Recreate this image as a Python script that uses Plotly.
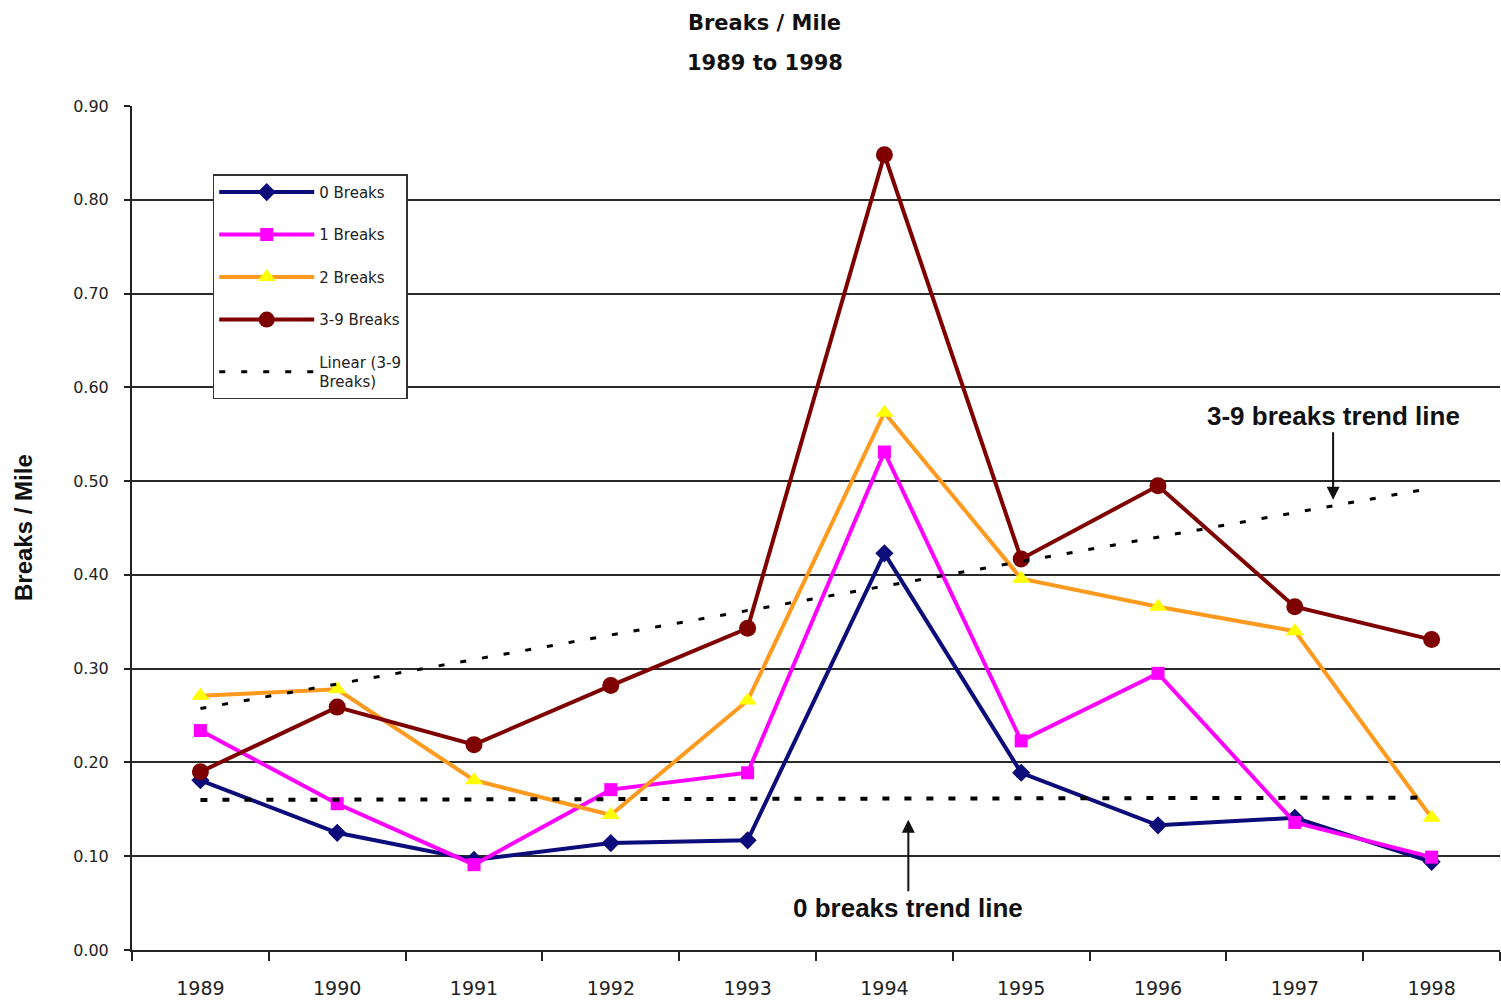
import numpy as np
import plotly.graph_objects as go

# Breaks per mile by year, grouped by number of prior breaks
years = ["1989", "1990", "1991", "1992", "1993", "1994", "1995", "1996", "1997", "1998"]
breaks_0 = [0.181, 0.125, 0.096, 0.114, 0.117, 0.423, 0.189, 0.133, 0.141, 0.094]
breaks_1 = [0.234, 0.156, 0.091, 0.171, 0.189, 0.531, 0.223, 0.295, 0.136, 0.099]
breaks_2 = [0.271, 0.278, 0.181, 0.144, 0.266, 0.573, 0.396, 0.366, 0.340, 0.141]
breaks_3_9 = [0.190, 0.259, 0.219, 0.282, 0.343, 0.848, 0.417, 0.495, 0.366, 0.331]

y_ticks = [0.0, 0.1, 0.2, 0.3, 0.4, 0.5, 0.6, 0.7, 0.8, 0.9]

# Least-squares linear trend lines
idx = np.arange(len(years))
def linear_trend(values):
    slope, intercept = np.polyfit(idx, values, 1)
    return list(slope * idx + intercept)

trend_3_9 = linear_trend(breaks_3_9)
trend_0 = linear_trend(breaks_0)

fig = go.Figure()

series = [
    ("0 Breaks", breaks_0, "#0c0c7a", "#0c0c7a", "diamond", 14),
    ("1 Breaks", breaks_1, "#ff00ff", "#ff00ff", "square", 13),
    ("2 Breaks", breaks_2, "#ff9a1e", "#ffff00", "triangle-up", 16),
    ("3-9 Breaks", breaks_3_9, "#7f0000", "#7f0000", "circle", 17),
]
for i, (name, vals, lc, mc, sym, ms) in enumerate(series):
    fig.add_trace(go.Scatter(
        x=years, y=vals, name=name, mode="lines+markers",
        line=dict(color=lc, width=4),
        marker=dict(color=mc, symbol=sym, size=ms, line=dict(width=0)),
        legendgroup=f"g{i}",
    ))

fig.add_trace(go.Scatter(
    x=years, y=trend_0, mode="lines", showlegend=False,
    line=dict(color="black", width=4, dash="7px,15px"),
))
fig.add_trace(go.Scatter(
    x=years, y=trend_3_9, name="Linear (3-9<br>Breaks)", mode="lines",
    line=dict(color="black", width=3, dash="6px,16px"),
    legendgroup="g4",
))

axis_font = dict(family="DejaVu Sans", color="#222222")

fig.update_layout(
    width=1501, height=1000,
    margin=dict(l=132, r=1, t=106, b=50),
    paper_bgcolor="white", plot_bgcolor="white",
    showlegend=True,
    legend=dict(
        x=0.059, y=0.919, xanchor="left", yanchor="top",
        bgcolor="white", bordercolor="#333333", borderwidth=1.5,
        font=dict(family="DejaVu Sans", size=15, color="#222222"),
        tracegroupgap=20, itemwidth=95,
    ),
    xaxis=dict(
        type="category", range=[-0.5, 9.5],
        showline=True, linecolor="#222222", linewidth=2,
        ticks="outside", tickson="boundaries", ticklen=9, tickwidth=2, tickcolor="#222222",
        tickfont=dict(size=19, **axis_font), ticklabelstandoff=20,
        showgrid=False, zeroline=False,
    ),
    yaxis=dict(
        range=[0, 0.9], tickvals=y_ticks, tickformat=".2f",
        showline=True, linecolor="#222222", linewidth=2,
        ticks="outside", ticklen=6, tickwidth=2, tickcolor="#222222",
        tickfont=dict(size=16, **axis_font), ticklabelstandoff=12,
        showgrid=True, gridcolor="#2a2a2a", gridwidth=1.5,
        zeroline=False,
    ),
    annotations=[
        dict(text="<b>Breaks / Mile</b>", xref="paper", yref="paper",
             x=0.4627, y=1.115, showarrow=False,
             font=dict(family="DejaVu Sans", size=21, color="#111111")),
        dict(text="<b>1989 to 1998</b>", xref="paper", yref="paper",
             x=0.4627, y=1.0675, showarrow=False,
             font=dict(family="DejaVu Sans", size=21, color="#111111")),
        dict(text="<b>Breaks / Mile</b>", xref="paper", yref="paper",
             x=-0.091, y=0.5, showarrow=False, textangle=-90,
             font=dict(family="Liberation Sans", size=24, color="#111111")),
        dict(text="<b>3-9 breaks trend line</b>", x=8.28, y=0.48,
             ax=0, ay=-84, showarrow=True, arrowhead=2, arrowsize=1.3,
             arrowwidth=2, arrowcolor="#111111",
             font=dict(family="Liberation Sans", size=26, color="#111111")),
        dict(text="<b>0 breaks trend line</b>", x=5.175, y=0.139,
             ax=0, ay=88, showarrow=True, arrowhead=2, arrowsize=1.3,
             arrowwidth=2, arrowcolor="#111111",
             font=dict(family="Liberation Sans", size=26, color="#111111")),
    ],
)

fig.write_html("out.html")
